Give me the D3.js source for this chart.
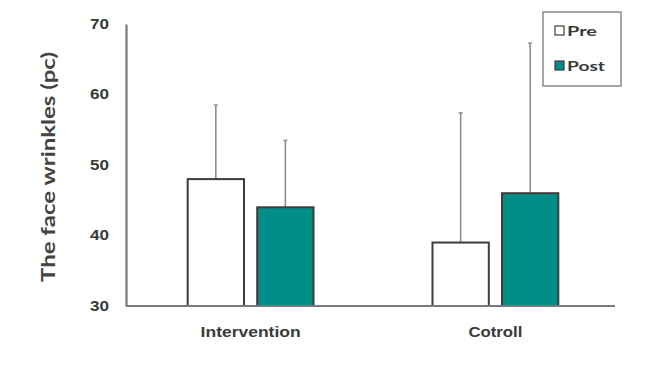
<!DOCTYPE html>
<html>
<head>
<meta charset="utf-8">
<script src="https://cdn.jsdelivr.net/npm/d3@7"></script>
<style>
  html, body { margin: 0; padding: 0; background: #fff; }
  svg { display: block; font-family: Lato, "Open Sans", "DejaVu Sans", sans-serif; }
</style>
</head>
<body>
<svg id="chart" width="647" height="369"></svg>
<script>
// Face wrinkle scores (pc), mean with upper error bar, per group and time point
const groups = ["Intervention", "Cotroll"];
const seriesNames = ["Pre", "Post"];
const preMeans = [48, 39];
const postMeans = [44, 46];
const preErrTop = [58.5, 57.4];
const postErrTop = [53.5, 67.3];
const yTicks = [30, 40, 50, 60, 70];

const colors = { Pre: "#ffffff", Post: "#008f88" };
const textColor = "#3a3a3a";

const rows = groups.map((g, i) => ({
  group: g,
  values: [
    { key: "Pre", mean: preMeans[i], hi: preErrTop[i] },
    { key: "Post", mean: postMeans[i], hi: postErrTop[i] }
  ]
}));

const svg = d3.select("#chart");
const plotL = 126, plotR = 620, plotT = 24, plotB = 306;

const x0 = d3.scaleBand().domain(groups).range([plotL, plotR])
  .paddingInner(0.486).paddingOuter(0.252);
const x1 = d3.scaleBand().domain(seriesNames).range([0, x0.bandwidth()])
  .paddingInner(0.19);
const y = d3.scaleLinear().domain([30, 70]).range([plotB, plotT]);

// y axis
const yAxis = svg.append("g")
  .attr("transform", `translate(${plotL},0)`)
  .call(d3.axisLeft(y).tickValues(yTicks).tickSize(0).tickPadding(17));
yAxis.select(".domain").attr("stroke", "#7a7a7a").attr("stroke-width", 2.2);
yAxis.selectAll("text")
  .attr("fill", textColor).attr("font-size", 14).attr("font-weight", 700)
  .attr("textLength", 19).attr("lengthAdjust", "spacingAndGlyphs");

// bars
const g = svg.append("g");
const grp = g.selectAll("g.grp").data(rows).join("g")
  .attr("class", "grp")
  .attr("transform", d => `translate(${x0(d.group)},0)`);

// error bars (upper only)
grp.selectAll("line.err").data(d => d.values).join("line")
  .attr("class", "err")
  .attr("x1", d => x1(d.key) + x1.bandwidth() / 2)
  .attr("x2", d => x1(d.key) + x1.bandwidth() / 2)
  .attr("y1", d => y(d.mean))
  .attr("y2", d => y(d.hi))
  .attr("stroke", "#8c8c8c").attr("stroke-width", 1.6);
grp.selectAll("line.cap").data(d => d.values).join("line")
  .attr("class", "cap")
  .attr("x1", d => x1(d.key) + x1.bandwidth() / 2 - 2)
  .attr("x2", d => x1(d.key) + x1.bandwidth() / 2 + 2)
  .attr("y1", d => y(d.hi))
  .attr("y2", d => y(d.hi))
  .attr("stroke", "#8c8c8c").attr("stroke-width", 1.4);

grp.selectAll("rect").data(d => d.values).join("rect")
  .attr("x", d => x1(d.key))
  .attr("width", x1.bandwidth())
  .attr("y", d => y(d.mean))
  .attr("height", d => y(30) - y(d.mean))
  .attr("fill", d => colors[d.key])
  .attr("stroke", "#3d3d3d").attr("stroke-width", 2);

// x baseline
svg.append("line")
  .attr("x1", plotL).attr("x2", 615)
  .attr("y1", y(30)).attr("y2", y(30))
  .attr("stroke", "#7a7a7a").attr("stroke-width", 2.2);

// category labels
const labelWidths = { "Intervention": 100, "Cotroll": 54 };
const xAxis = svg.append("g")
  .attr("transform", `translate(0,${plotB})`)
  .call(d3.axisBottom(x0).tickSize(0).tickPadding(21));
xAxis.select(".domain").remove();
xAxis.selectAll("text")
  .attr("fill", textColor).attr("font-size", 14).attr("font-weight", 700)
  .attr("textLength", d => labelWidths[d]).attr("lengthAdjust", "spacingAndGlyphs");

// y title
svg.append("text")
  .attr("transform", `translate(55,${(plotT + plotB) / 2 + 2}) rotate(-90)`)
  .attr("text-anchor", "middle")
  .attr("fill", "#444").attr("font-size", 19.5).attr("font-weight", 700)
  .attr("textLength", 230).attr("lengthAdjust", "spacingAndGlyphs")
  .text("The face wrinkles (pc)");

// legend
const legendWidths = { Pre: 30, Post: 38 };
const lg = svg.append("g").attr("transform", "translate(543,12)");
lg.append("rect").attr("width", 78).attr("height", 74)
  .attr("fill", "#fff").attr("stroke", "#8a8a8a").attr("stroke-width", 1.5);
const items = lg.selectAll("g.item").data(seriesNames).join("g")
  .attr("class", "item")
  .attr("transform", (d, i) => `translate(12,${14 + i * 35})`);
items.append("rect").attr("width", 9).attr("height", 9)
  .attr("fill", d => colors[d])
  .attr("stroke", "#3d3d3d").attr("stroke-width", 1.2);
items.append("text").attr("x", 12).attr("y", 9.5)
  .attr("fill", textColor).attr("font-size", 13).attr("font-weight", 700)
  .attr("textLength", d => legendWidths[d]).attr("lengthAdjust", "spacingAndGlyphs")
  .text(d => d);
</script>
</body>
</html>
